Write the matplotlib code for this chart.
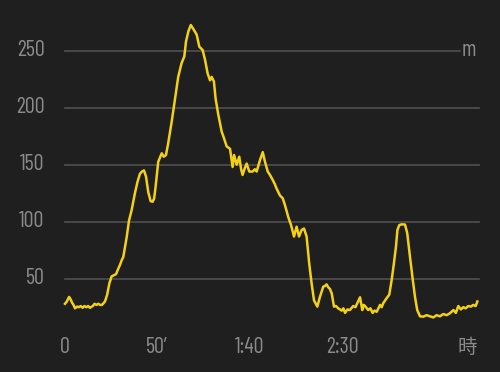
import matplotlib
matplotlib.use("Agg")
import matplotlib.pyplot as plt

# 時間（分）と標高（m）
minutes = [0, 1.0, 2.2, 3.0, 3.8, 4.6, 5.4, 6.5, 7.5, 8.5, 9.5, 10.5, 11.5, 12.5, 13.5, 15,
           16, 17, 18, 19, 20, 21.6, 22.8, 24, 25.2, 26.4, 27.6, 28.6, 29.7, 30.6, 31.5,
           33.4, 34.6, 36, 37.8, 39.2, 40.5, 41.6, 42.7, 43.8, 45, 46.3, 47.4, 48.2, 49,
           50.4, 51.3, 52.3, 53.4, 54.6, 55.8, 57.7, 59.5, 61.2, 63, 64.5, 65.4, 66.7,
           68, 69.4, 71.2, 72.6, 74.4, 75.7, 77.1, 78.4, 79.3, 80.5, 81.4, 82.9, 84.7,
           86, 87.4, 89.2, 90.6, 91.4, 92.8, 94.2, 95.2, 96, 97.2, 98.2, 99.6, 101.5,
           102.6, 103.6, 105.4, 106.9, 108.1, 109.6, 110.8, 112.3, 113.4, 114.4, 115.3,
           116.2, 117.7, 118.9, 120.7, 122.2, 123.8, 125.2, 126.5, 127.9, 129.2, 130.6,
           132, 133.3, 134.6, 136.4, 137.8, 139.6, 140.5, 141.4, 142.3, 143.2, 144.2,
           145.4, 146.5, 147.7, 148.7, 149.6, 150.5, 151.4, 152.7, 154, 155.8, 157,
           158, 159.5, 160.7, 161.5, 162.2, 163.9, 165.1, 166.3, 167.4, 168.5, 170.3,
           171.2, 172, 173.9, 175.3, 176.6, 177.8, 178.9, 179.7, 180.7, 182, 183.8, 185,
           186.5, 188, 189.2, 190.4, 191.9, 193.7, 195.5, 197.3, 199.1, 200.9, 202.7,
           204.5, 206.3, 208, 209, 210, 211.3, 212.6, 214, 215.3, 216.6, 218, 219.4,
           220.7, 222, 222.9]
elevation = [28, 30, 34, 32, 29, 27, 24, 25.5, 25, 26, 24.5, 26, 25, 26, 24.5, 26,
             28, 27, 28, 27, 27, 30, 36, 46, 52, 53, 54, 58, 62, 66, 69,
             87, 101, 110, 125, 135, 142, 144, 145, 139.5, 126, 118, 117.5, 120.5, 131,
             152.6, 156, 160, 157, 158.5, 169, 188, 208, 227, 239, 245, 258, 267,
             272.5, 269, 264, 253.5, 250.6, 242, 230, 224, 227, 223, 208, 193.6, 179,
             173, 166, 164, 148, 158.5, 150, 157, 146, 141, 147, 151, 144, 144,
             146, 144, 154, 161, 152.6, 144, 141, 136.6, 133, 129, 126,
             123, 120.5, 114.6, 104, 97, 87, 95.6, 87, 92.7, 94, 87,
             63.5, 46, 31, 25.5, 34, 43, 43.6, 45, 42.5, 41, 37,
             25.5, 26, 24, 23, 22, 24, 20, 23, 22.5, 26, 25,
             28.4, 33.7, 22.5, 27, 26, 22.5, 24, 20, 22, 21, 27,
             25, 28.4, 33, 36, 49, 63.5, 78, 92.7, 97, 97.7, 97.5, 90,
             69, 49, 34, 22.5, 17, 16.7, 18, 17, 16, 18, 17,
             19, 18, 19.6, 21, 22.5, 20, 26, 23, 25, 24, 26, 25.5,
             27, 26, 30]

y_ticks = [50, 100, 150, 200, 250]
x_ticks = [0, 50, 100, 150]
x_tick_labels = ["0", "50′", "1:40", "2:30"]

bg = "#1f1f1f"
text_color = "#8a8a8a"
grid_color = "#505050"
line_color = "#f5d116"
num_font = ["Barlow Condensed", "DejaVu Sans"]

fig = plt.figure(figsize=(5.0, 3.72), dpi=100, facecolor=bg)
ax = fig.add_axes([0.13, 0.0976, 0.828, 0.8887], facecolor=bg)
ax.set_xlim(0, 223.8)
ax.set_ylim(0, 290)
for s in ax.spines.values():
    s.set_visible(False)
ax.set_xticks([])
ax.set_yticks([])

# 横線（250 の線は単位ラベルの手前で止める）
for v in y_ticks:
    x_end = 213.5 if v == 250 else 223.8
    ax.plot([0, x_end], [v, v], color=grid_color, lw=1.2, zorder=1, clip_on=False)

ax.plot(minutes, elevation, color=line_color, lw=1.8, zorder=3, clip_on=False)

for v in y_ticks:
    ax.text(-11, v, str(v), ha="right", va="center", color=text_color,
            fontsize=16, family=num_font)
for v, lab in zip(x_ticks, x_tick_labels):
    ax.text(v, -10.5, lab, ha="center", va="center", color=text_color,
            fontsize=16, family=num_font)

ax.text(218.3, 250, "m", ha="center", va="center", color=text_color,
        fontsize=16, family=num_font)
ax.text(217.3, -10.5, "時", ha="center", va="center", color=text_color,
        fontsize=14, family=["Noto Sans CJK JP", "DejaVu Sans"])

fig.savefig("out.png", dpi=100, facecolor=bg)
